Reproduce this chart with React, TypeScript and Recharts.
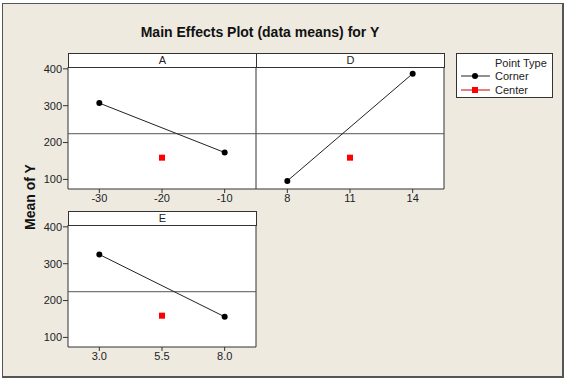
import React from 'react';
import {
  ComposedChart,
  Line,
  Scatter,
  XAxis,
  YAxis,
  CartesianGrid,
  ReferenceArea,
  ReferenceLine,
} from 'recharts';

// factor levels and the mean response at each level
const factorNames = ['A', 'D', 'E'];
const aLevels = [-30, -10];
const aCornerMeans = [307, 173];
const aCenterLevel = -20;
const dLevels = [8, 14];
const dCornerMeans = [96, 387];
const dCenterLevel = 11;
const eLevels = [3.0, 8.0];
const eCornerMeans = [325, 156];
const eCenterLevel = 5.5;
const centerMean = 159;
const grandMean = 224;

const aTicks = [-30, -20, -10];
const dTicks = [8, 11, 14];
const eTicks = [3.0, 5.5, 8.0];
const meanTicks = [100, 200, 300, 400];
const meanDomain = [74, 405];

const FONT = '"Liberation Sans", Arial, sans-serif';
const INK = '#333';
const PAD = 10; // room above the plot so the top tick label isn't clipped

const CenterSquare = (props: any) => {
  const { cx, cy } = props;
  if (cx == null || cy == null) return null;
  return <rect x={cx - 3} y={cy - 3} width={6} height={6} fill="#ff0000" />;
};

const CornerDot = (props: any) => {
  const { cx, cy } = props;
  if (cx == null || cy == null) return null;
  return <circle cx={cx} cy={cy} r={3} fill="#000" />;
};

type PanelProps = {
  name: string;
  left: number;
  top: number;
  levels: number[];
  means: number[];
  centerLevel: number;
  domain: number[];
  ticks: number[];
  showY: boolean;
  fmt?: (v: number) => string;
};

const Panel = ({ name, left, top, levels, means, centerLevel, domain, ticks, showY, fmt }: PanelProps) => {
  const corners = levels.map((x, i) => ({ x, y: means[i] }));
  const center = [{ x: centerLevel, y: centerMean }];
  const yw = showY ? 48 : 0;
  const plotW = 188;
  const width = yw + plotW + 1;
  return (
    <>
      <div style={{ position: 'absolute', left, top: top - PAD }}>
        <ComposedChart width={width} height={140 + PAD} margin={{ top: PAD, right: 1, bottom: 0, left: 0 }}>
          <CartesianGrid fill="#fff" horizontal={false} vertical={false} />
          <XAxis
            type="number"
            dataKey="x"
            domain={domain}
            ticks={ticks}
            allowDataOverflow
            height={18}
            axisLine={false}
            tickSize={4}
            tickMargin={1}
            tickLine={{ stroke: INK }}
            tick={{ fontSize: 11, fill: '#222', fontFamily: FONT }}
            tickFormatter={fmt}
            interval={0}
          />
          <YAxis
            type="number"
            dataKey="y"
            domain={meanDomain}
            ticks={meanTicks}
            allowDataOverflow
            hide={!showY}
            width={yw}
            axisLine={false}
            tickSize={5}
            tickMargin={1}
            tickLine={{ stroke: INK }}
            tick={{ fontSize: 11, fill: '#222', fontFamily: FONT }}
            interval={0}
          />
          <ReferenceLine y={grandMean} stroke="#555" strokeWidth={1} />
          <Line
            data={corners}
            dataKey="y"
            stroke="#222"
            strokeWidth={1}
            dot={<CornerDot />}
            activeDot={false}
            isAnimationActive={false}
          />
          <Scatter data={center} dataKey="y" shape={<CenterSquare />} isAnimationActive={false} />
          <ReferenceArea
            x1={domain[0]}
            x2={domain[1]}
            y1={meanDomain[0]}
            y2={meanDomain[1]}
            fill="none"
            fillOpacity={0}
            stroke={INK}
            strokeWidth={1}
          />
        </ComposedChart>
      </div>
      <div
        style={{
          position: 'absolute',
          left: left + yw,
          top: top - 14,
          width: plotW + 1,
          height: 15,
          boxSizing: 'border-box',
          border: `1px solid ${INK}`,
          background: '#fff',
          fontSize: 11,
          lineHeight: '13px',
          textAlign: 'center',
          color: '#222',
        }}
      >
        {name}
      </div>
    </>
  );
};

const LegendRow = ({ label, square, top }: { label: string; square: boolean; top: number }) => (
  <div style={{ position: 'absolute', left: 4, top, height: 14, display: 'flex', alignItems: 'center' }}>
    <svg width={30} height={14}>
      <line x1={0} y1={7} x2={29} y2={7} stroke={square ? '#cc0000' : '#222'} strokeWidth={1} />
      {square ? <rect x={11} y={4} width={6} height={6} fill="#ff0000" /> : <circle cx={14} cy={7} r={3} fill="#000" />}
    </svg>
    <span style={{ marginLeft: 4, fontSize: 11 }}>{label}</span>
  </div>
);

export default function App() {
  return (
    <div
      style={{
        position: 'absolute',
        left: 0,
        top: 0,
        width: 568,
        height: 380,
        background: '#fff',
        fontFamily: FONT,
        color: '#222',
        overflow: 'hidden',
      }}
    >
      <div
        style={{
          position: 'absolute',
          left: 2,
          top: 3,
          width: 562,
          height: 375,
          boxSizing: 'border-box',
          border: '1px solid #555',
          borderRightWidth: 2,
          borderBottomWidth: 2,
          background: '#eeeae0',
        }}
      />
      <div
        style={{
          position: 'absolute',
          left: 0,
          top: 24,
          width: 520,
          textAlign: 'center',
          fontWeight: 'bold',
          fontSize: 14,
          color: '#111',
        }}
      >
        Main Effects Plot (data means) for Y
      </div>
      <div
        style={{
          position: 'absolute',
          left: 30,
          top: 197,
          transform: 'translate(-50%, -50%) rotate(-90deg)',
          whiteSpace: 'nowrap',
          fontWeight: 'bold',
          fontSize: 14,
          color: '#111',
        }}
      >
        Mean of Y
      </div>

      <Panel
        name={factorNames[0]}
        left={20}
        top={67}
        levels={aLevels}
        means={aCornerMeans}
        centerLevel={aCenterLevel}
        domain={[-35, -5]}
        ticks={aTicks}
        showY
      />
      <Panel
        name={factorNames[1]}
        left={256}
        top={67}
        levels={dLevels}
        means={dCornerMeans}
        centerLevel={dCenterLevel}
        domain={[6.5, 15.5]}
        ticks={dTicks}
        showY={false}
      />
      <Panel
        name={factorNames[2]}
        left={20}
        top={225}
        levels={eLevels}
        means={eCornerMeans}
        centerLevel={eCenterLevel}
        domain={[1.75, 9.25]}
        ticks={eTicks}
        showY
        fmt={(v: number) => v.toFixed(1)}
      />

      <div
        style={{
          position: 'absolute',
          left: 456,
          top: 53,
          width: 97,
          height: 45,
          boxSizing: 'border-box',
          border: `1px solid ${INK}`,
          background: '#fff',
        }}
      >
        <div style={{ position: 'absolute', left: 38, top: 3, fontSize: 11, whiteSpace: 'nowrap' }}>Point Type</div>
        <LegendRow label="Corner" square={false} top={15} />
        <LegendRow label="Center" square top={29} />
      </div>
    </div>
  );
}
